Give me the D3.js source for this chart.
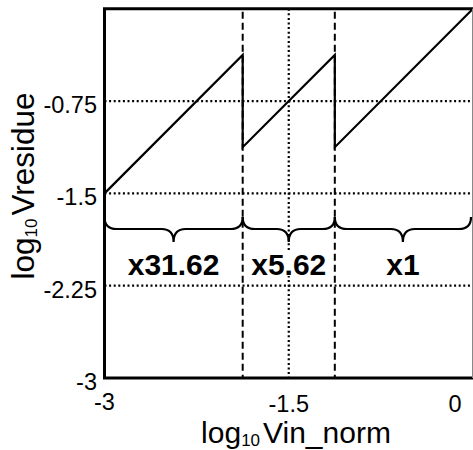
<!DOCTYPE html>
<html><head><meta charset="utf-8">
<script src="https://cdn.jsdelivr.net/npm/d3@7"></script>
<style>body{margin:0;background:#fff}svg{display:block}</style>
</head><body>
<script>
// Residue transfer of a three-stage gain ladder, log10 on both axes
const stageLabels = ["x31.62", "x5.62", "x1"];
const stageBounds = [-3, -1.875, -1.125, 0];      // log10 Vin_norm where each stage starts/ends
// residue curve vertices
const residueX = [-3, -1.875, -1.875, -1.125, -1.125, 0];
const residueY = [-1.5, -0.375, -1.125, -0.375, -1.125, 0];
const xTicks = [-3, -1.5, 0];
const xTickLabels = ["-3", "-1.5", "0"];
const yTicks = [-3, -2.25, -1.5, -0.75];
const yTickLabels = ["-3", "-2.25", "-1.5", "-0.75"];
const gridY = [-0.75, -1.5, -2.25];   // dotted horizontal guides
const gridX = [-1.5];                 // dotted vertical guide
const stageLines = [-1.875, -1.125];  // dashed stage boundaries

const W = 473, H = 450;
const FONT = "'Liberation Sans', Arial, Helvetica, sans-serif";
const svg = d3.select("body").append("svg").attr("width", W).attr("height", H)
  .style("font-family", FONT);

const x = d3.scaleLinear().domain([-3, 0]).range([104.5, 473]);
const y = d3.scaleLinear().domain([-3, 0]).range([378, 8.7]);

// dotted guides
svg.append("g").selectAll("line").data(gridY).join("line")
  .attr("x1", x(-3)).attr("x2", x(0)).attr("y1", d => y(d)).attr("y2", d => y(d))
  .attr("stroke", "#000").attr("stroke-width", 2.2).attr("stroke-dasharray", "2,2.6");
svg.append("g").selectAll("line").data(gridX).join("line")
  .attr("x1", d => x(d)).attr("x2", d => x(d)).attr("y1", y(0)).attr("y2", y(-3))
  .attr("stroke", "#000").attr("stroke-width", 2.2).attr("stroke-dasharray", "2,2.6");

// dashed stage boundaries
svg.append("g").selectAll("line").data(stageLines).join("line")
  .attr("x1", d => x(d)).attr("x2", d => x(d)).attr("y1", y(0) + 3).attr("y2", y(-3))
  .attr("stroke", "#000").attr("stroke-width", 2).attr("stroke-dasharray", "7,4");

// residue curve
const pts = residueX.map((v, i) => [v, residueY[i]]);
svg.append("path").datum(pts)
  .attr("d", d3.line().x(d => x(d[0])).y(d => y(d[1])))
  .attr("fill", "none").attr("stroke", "#000").attr("stroke-width", 2.2);

// frame
svg.append("path")
  .attr("d", `M${x(0)},${y(0)} H${x(-3)} V${y(-3)} H${x(0)}`)
  .attr("fill", "none").attr("stroke", "#000").attr("stroke-width", 3);
svg.append("line").attr("x1", x(0) - 0.5).attr("x2", x(0) - 0.5)
  .attr("y1", y(0)).attr("y2", y(-3)).attr("stroke", "#888").attr("stroke-width", 1);

// braces over each stage
const bEnd = 217, bFlat = 229, bTip = 242, r = 12;
function brace(a, b) {
  const m = (a + b) / 2;
  return `M${a},${bEnd} Q${a},${bFlat} ${a + r},${bFlat} L${m - r},${bFlat}` +
         ` Q${m},${bFlat} ${m},${bTip} Q${m},${bFlat} ${m + r},${bFlat}` +
         ` L${b - r},${bFlat} Q${b},${bFlat} ${b},${bEnd}`;
}
const stages = stageLabels.map((s, i) => ({ label: s, a: stageBounds[i], b: stageBounds[i + 1] }));
svg.append("g").selectAll("path").data(stages).join("path")
  .attr("d", d => brace(x(d.a), Math.min(x(d.b), 471)))
  .attr("fill", "none").attr("stroke", "#000").attr("stroke-width", 2.2);

// stage gain labels on a white backing
const lab = svg.append("g").selectAll("g").data(stages).join("g");
lab.append("text")
  .attr("x", d => (x(d.a) + Math.min(x(d.b), 471)) / 2).attr("y", 275)
  .attr("text-anchor", "middle").attr("font-weight", "bold").attr("font-size", 30)
  .text(d => d.label);
lab.each(function () {
  const t = d3.select(this).select("text");
  const bb = t.node().getBBox();
  d3.select(this).insert("rect", "text")
    .attr("x", bb.x).attr("y", bb.y + 4).attr("width", bb.width).attr("height", bb.height - 9)
    .attr("fill", "#fff");
});

// tick labels
svg.append("g").selectAll("text").data(yTicks).join("text")
  .attr("x", 97).attr("y", d => y(d) + 12).attr("text-anchor", "end")
  .attr("font-size", 23.5).text((d, i) => yTickLabels[i]);
svg.append("g").selectAll("text").data(xTicks).join("text")
  .attr("x", d => d === 0 ? x(d) - 18 : x(d))
  .attr("y", d => d === -3 ? 410 : 412)
  .attr("text-anchor", "middle").attr("font-size", 23.5).text((d, i) => xTickLabels[i]);

// axis titles with subscript 10
function title(sel, main1, main2) {
  sel.append("tspan").text(main1);
  sel.append("tspan").attr("font-size", 17).attr("dy", 3).text("10");
  sel.append("tspan").attr("dy", -3).attr("dx", 3).text(main2);
}
const xt = svg.append("text").attr("x", 296).attr("y", 443)
  .attr("text-anchor", "middle").attr("font-size", 30);
title(xt, "log", "Vin_norm");
const yt = svg.append("text").attr("transform", "translate(34,186) rotate(-90)")
  .attr("text-anchor", "middle").attr("font-size", 31.5);
title(yt, "log", "Vresidue");
</script>
</body></html>
